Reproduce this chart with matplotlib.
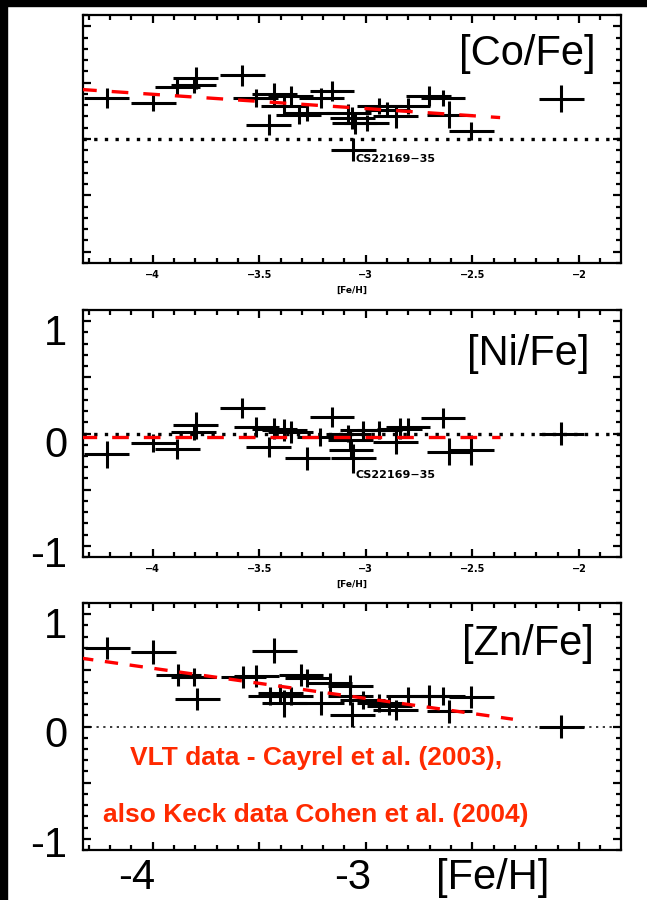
import matplotlib
matplotlib.use("Agg")
import matplotlib.pyplot as plt
from matplotlib.patches import Rectangle
from matplotlib.ticker import MultipleLocator

# [Fe/H] of each star, with errors
co_feh = [-4.216, -3.996, -3.884, -3.797, -3.807, -3.579, -3.517, -3.455, -3.430, -3.386,
          -3.353, -3.314, -3.275, -3.208, -3.159, -3.082, -3.063, -3.053, -3.059, -2.995,
          -2.937, -2.899, -2.860, -2.802, -2.705, -2.638, -2.609, -2.506, -2.083]
co_val = [0.365, 0.320, 0.463, 0.543, 0.475, 0.564, 0.365, 0.128, 0.395, 0.291,
          0.380, 0.217, 0.231, 0.365, 0.424, 0.231, 0.187, 0.142, -0.095, 0.142,
          0.291, 0.261, 0.200, 0.291, 0.380, 0.365, 0.217, 0.068, 0.356]
co_err = [0.09, 0.07, 0.07, 0.10, 0.07, 0.09, 0.08, 0.09, 0.10, 0.08,
          0.09, 0.08, 0.07, 0.09, 0.09, 0.08, 0.10, 0.10, 0.10, 0.07,
          0.07, 0.07, 0.10, 0.07, 0.09, 0.07, 0.12, 0.08, 0.12]

ni_feh = [-4.216, -3.996, -3.884, -3.797, -3.807, -3.579, -3.513, -3.455, -3.430, -3.382,
          -3.353, -3.275, -3.217, -3.159, -3.082, -3.072, -3.069, -3.059, -3.014, -2.937,
          -2.860, -2.841, -2.802, -2.638, -2.609, -2.506, -2.083]
ni_val = [-0.185, -0.088, -0.141, 0.074, 0.015, 0.229, 0.059, -0.118, 0.044, 0.029,
          0.015, -0.221, -0.029, 0.147, 0.000, -0.059, -0.147, -0.221, 0.029, 0.029,
          -0.074, 0.044, 0.059, 0.141, -0.162, -0.147, 0.000]
ni_err = [0.12, 0.08, 0.09, 0.12, 0.07, 0.09, 0.09, 0.09, 0.09, 0.10,
          0.10, 0.10, 0.08, 0.09, 0.08, 0.08, 0.08, 0.13, 0.08, 0.08,
          0.11, 0.09, 0.08, 0.09, 0.12, 0.13, 0.10]

zn_feh = [-4.213, -3.996, -3.880, -3.807, -3.791, -3.575, -3.513, -3.430, -3.449, -3.401,
          -3.382, -3.353, -3.304, -3.275, -3.208, -3.169, -3.072, -3.072, -3.063, -3.014,
          -2.937, -2.889, -2.860, -2.802, -2.705, -2.638, -2.609, -2.506, -2.083]
zn_val = [0.699, 0.664, 0.461, 0.440, 0.244, 0.440, 0.452, 0.676, 0.268, 0.298,
          0.208, 0.268, 0.461, 0.432, 0.208, 0.387, 0.357, 0.268, 0.104, 0.238,
          0.208, 0.179, 0.149, 0.268, 0.268, 0.268, 0.134, 0.262, 0.000]
zn_err = [0.10, 0.11, 0.10, 0.08, 0.10, 0.10, 0.10, 0.11, 0.08, 0.08,
          0.12, 0.08, 0.10, 0.08, 0.11, 0.09, 0.10, 0.08, 0.11, 0.08,
          0.08, 0.08, 0.09, 0.08, 0.10, 0.08, 0.10, 0.10, 0.10]

feh_err = 0.105

# straight fits (red dashes)
fit_feh = [-4.34, -2.37]
co_fit = [0.44, 0.19]
ni_fit = [-0.03, -0.03]
zn_fit_feh = [-4.34, -2.31]
zn_fit = [0.61, 0.065]

xticks = [-4, -3.5, -3, -2.5, -2]
xtick_labels = ["\u22124", "\u22123.5", "\u22123", "\u22122.5", "\u22122"]

W, H = 647, 900


def fx(px):
    return px / W


def fy(py):
    return 1 - py / H


fig = plt.figure(figsize=(6.47, 9.0), dpi=100)

# black frame bits on the left and top of the slide
fig.patches.append(Rectangle((0, 0), fx(7), 1, transform=fig.transFigure,
                             color="black", zorder=10))
fig.patches.append(Rectangle((0, fy(6)), 1, 6 / H, transform=fig.transFigure,
                             color="black", zorder=10))

# panel boxes in pixels: top, bottom
boxes = [(15, 263), (310, 557), (603, 850)]
left, right = 83.3, 620.6
axes = []
for top, bot in boxes:
    ax = fig.add_axes([fx(left), fy(bot), fx(right - left), (bot - top) / H])
    ax.set_xlim(-4.325, -1.805)
    ax.set_ylim(-1.1, 1.1)
    ax.xaxis.set_major_locator(MultipleLocator(0.5))
    ax.xaxis.set_minor_locator(MultipleLocator(0.1))
    ax.yaxis.set_major_locator(MultipleLocator(0.5))
    ax.yaxis.set_minor_locator(MultipleLocator(0.1))
    ax.tick_params(which="both", direction="in", top=True, right=True, width=1.6)
    ax.tick_params(which="major", length=6)
    ax.tick_params(which="minor", length=3.5)
    ax.set_yticklabels([])
    for s in ax.spines.values():
        s.set_linewidth(1.6)
    axes.append(ax)

panels = [
    (axes[0], co_feh, co_val, co_err, fit_feh, co_fit, (0, (5, 4.5)), 2.0),
    (axes[1], ni_feh, ni_val, ni_err, fit_feh, ni_fit, (0, (5, 4.5)), 2.0),
    (axes[2], zn_feh, zn_val, zn_err, zn_fit_feh, zn_fit, (0, (4, 3.5)), 0.9),
]
for ax, fe, val, err, ffe, fval, dash, zlw in panels:
    ax.axhline(0, color="black", linestyle=(0, (1, 2.2)) if zlw > 1 else (0, (1.5, 3)),
               linewidth=zlw * 1.2, zorder=1)
    ax.errorbar(fe, val, xerr=feh_err, yerr=err, fmt="none", ecolor="black",
                elinewidth=2.2, capsize=0, zorder=3)
    ax.plot(ffe, fval, color="#ff0000", linestyle=dash, linewidth=2.4, zorder=4)

for ax in axes[:2]:
    ax.set_xticks(xticks)
    ax.set_xticklabels(xtick_labels, fontsize=7, fontweight="bold")
    ax.tick_params(axis="x", which="major", pad=5)
    ax.set_xlabel("[Fe/H]", fontsize=6.5, fontweight="bold", labelpad=4)
axes[2].set_xticklabels([])

# star label
axes[0].text(-3.05, -0.18, "CS22169\u221235", fontsize=8, fontweight="bold",
             va="center", ha="left")
axes[1].text(-3.05, -0.37, "CS22169\u221235", fontsize=8, fontweight="bold",
             va="center", ha="left")

big = dict(fontsize=30, family="Liberation Sans", color="black")
fig.text(fx(596), fy(65), "[Co/Fe]", ha="right", va="baseline", **big)
fig.text(fx(590), fy(365), "[Ni/Fe]", ha="right", va="baseline", **big)
fig.text(fx(594), fy(655), "[Zn/Fe]", ha="right", va="baseline", **big)

for py, lab in [(345, "1"), (457, "0"), (567, "-1"), (638, "1"), (747, "0"), (857, "-1")]:
    fig.text(fx(67), fy(py), lab, ha="right", va="baseline", **big)

fig.text(fx(137), fy(889), "-4", ha="center", va="baseline", **big)
fig.text(fx(353), fy(889), "-3", ha="center", va="baseline", **big)
fig.text(fx(493), fy(889), "[Fe/H]", ha="center", va="baseline", **big)

red = dict(fontsize=19, family="Liberation Sans", fontweight="bold", color="#ff2a00")
fig.text(fx(316), fy(765), "VLT data - Cayrel et al. (2003),", ha="center", va="baseline", **red)
fig.text(fx(316), fy(822), "also Keck data Cohen et al. (2004)", ha="center", va="baseline", **red)

fig.savefig("out.png", dpi=100)
